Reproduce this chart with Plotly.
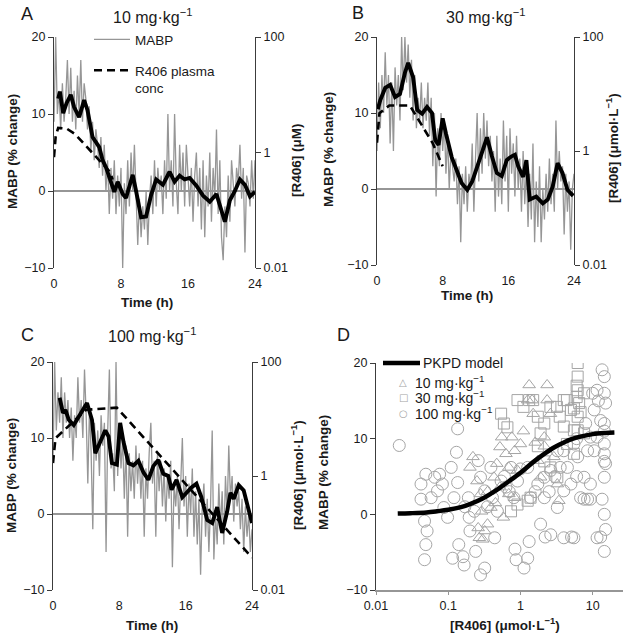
import plotly.graph_objects as go

W, H = 629, 638
FONT = "Liberation Sans, Arial, sans-serif"

# ---------------- DATA ----------------
# sample times (h) for raw MABP traces, every 0.2 h
t_raw = [round(i * 0.2, 1) for i in range(121)]

mabp_A = [9, 20, 10, 13, 8, 14, 9, 12, 17, 10, 16, 9, 13, 8, 15, 10, 17, 9, 14, 12,
          8, 11, 5, 9, 4, 8, 6, 3, 7, 2, 6, 0, 4, -3, 3, -1, 4, -3, 2, -2,
          3, -10, 1, -3, 4, -2, 5, 0, 6, -2, -7, -1, -6, -2, -5, 0, -7, -1, 2, -3,
          4, -2, 3, 0, 2, -3, 4, -1, 10, 0, 4, -2, 10, 1, -3, 6, 0, 5, -2, 6,
          1, -2, 3, -4, 2, 5, -2, 3, -5, 4, -6, 2, -2, 5, -4, 3, -1, 8, -3, 4,
          -6, -9, -2, -6, 2, -4, 4, 1, -2, 3, 1, 6, -1, 3, -8, 2, 1, -2, 4, -1, 4]
mabp_B = [5, 14, 8, 15, 10, 18, 11, 15, 6, 14, 5, 16, 11, 15, 9, 20, 13, 20, 14, 19,
          12, 17, 9, 15, 8, 12, 9, 14, 8, 12, 9, 14, 7, 12, 3, 10, -1, 8, 3, 10,
          5, 9, 2, 7, 0, 5, 3, 1, 4, -2, 3, -7, 2, -2, 3, -3, 2, 0, 6, -3,
          4, 10, 1, 8, 2, 10, 4, 9, 3, 7, 1, 5, -3, 7, -1, 4, -2, 9, 1, 7,
          -3, 8, 2, 6, -1, 7, 0, 4, -3, 5, -2, 3, -5, 2, -4, 6, -7, 1, -5, 3,
          -7, 0, -4, 2, -3, 4, -2, 2, -3, 9, 0, 5, 1, 3, -6, 2, -3, 1, -8, 0, 2]
mabp_C = [7, 20, 11, 16, 12, 18, 10, 16, 12, 15, 10, 14, 7, 13, 10, 18, 12, 15, 10, 19,
          13, 4, 14, 8, -2, 12, 7, 11, 5, 13, 9, 12, -5, 11, 19, 6, 8, 3, 20, 5,
          12, 6, 10, 2, 9, -3, 8, 3, 7, 2, 9, 4, 8, 2, 7, -3, 6, 2, 8, 12,
          4, 7, -3, 8, 3, 7, 1, 6, -1, 5, 2, 7, -7, 4, 1, 5, -2, 4, 10, 1,
          5, -3, 4, 0, 6, -3, 3, -4, 2, -8, 1, 4, -3, 2, -5, 1, 11, -6, 0, -4,
          4, -2, 3, -4, 5, 0, 9, 2, 5, -1, 4, 1, 3, -2, 2, -5, 1, -3, 0, -5, -2]

# smoothed MABP (black line)
smooth_A_t = [0.5, 0.7, 1.1, 1.5, 2.0, 2.4, 3.0, 3.6, 4.0, 4.6, 5.4, 5.8, 6.2, 6.8, 7.2, 7.6, 8.2, 8.6,
              9.4, 9.8, 10.4, 11.0, 11.6, 12.2, 13.0, 13.8, 14.4, 15.0, 15.6, 16.2, 17.0, 17.8, 18.6,
              19.4, 20.0, 20.4, 21.0, 21.6, 22.2, 22.8, 23.4, 24.0]
smooth_A_v = [12.0, 12.9, 10.1, 11.4, 12.5, 10.9, 9.6, 11.8, 10.5, 7.0, 5.7, 4.0, 3.1, 1.0, -0.1, 1.2, -0.4, -0.9,
              2.1, 0.0, -3.4, -3.3, -0.5, 1.5, 0.8, 2.5, 1.2, 2.0, 1.5, 1.7, 0.7, -0.6, -1.4,
              -0.4, -2.5, -4.0, -1.2, 0.0, 1.5, 0.8, -0.7, -0.1]
smooth_B_t = [0.1, 0.4, 1.0, 1.6, 2.2, 2.8, 3.4, 3.8, 4.4, 4.9, 5.5, 6.1, 6.7, 7.1, 7.5, 8.0, 8.4, 9.1, 9.7,
              10.3, 11.0, 11.6, 12.2, 12.8, 13.4, 14.0, 14.6, 15.2, 15.8, 16.4, 16.8, 17.2, 17.8, 18.2,
              18.6, 19.4, 20.2, 20.8, 21.4, 22.0, 22.6, 23.2, 23.9]
smooth_B_v = [10.5, 11.7, 13.3, 13.7, 12.1, 12.5, 15.3, 16.6, 14.7, 10.4, 9.9, 10.8, 10.0, 6.4, 5.8, 9.3, 7.3, 4.2, 2.5,
              0.8, -0.1, 1.0, 2.9, 4.7, 6.8, 4.3, 2.1, 1.7, 3.8, 4.3, 4.5, 3.0, 1.6, 3.8,
              -1.4, -1.0, -1.9, -1.4, 0.3, 3.4, 2.1, -0.1, -0.9]
smooth_C_t = [0.8, 1.2, 1.5, 1.9, 2.5, 3.1, 4.1, 4.7, 5.1, 5.7, 6.3, 6.7, 7.1, 7.7, 8.1, 8.5, 9.1, 9.7, 10.3,
              10.9, 11.5, 12.1, 12.7, 13.3, 13.9, 14.3, 14.9, 15.6, 16.2, 16.7, 17.3, 17.9, 18.6, 19.2,
              19.8, 20.4, 21.0, 21.4, 21.8, 22.4, 23.0, 23.6, 24.0]
smooth_C_v = [15.3, 13.3, 13.7, 12.4, 11.7, 12.8, 14.6, 12.4, 8.0, 9.5, 11.0, 10.2, 6.7, 6.5, 12.0, 9.5, 6.7, 6.4, 7.0,
              5.5, 4.5, 6.3, 7.1, 5.3, 5.0, 3.2, 4.5, 2.2, 2.9, 3.5, 4.0, 2.2, -0.8, -1.2,
              0.9, -2.5, 0.3, 2.8, 2.0, 3.8, 3.1, 0.5, -1.2]

# R406 plasma concentration (umol/L), right log axis
conc_A_t = [0.0, 0.2, 0.5, 1.5, 2.5, 6.7, 7.0]
conc_A_c = [0.83, 1.9, 2.67, 2.6, 2.09, 0.46, 0.34]
conc_B_t = [0.0, 0.3, 1.5, 4.0, 6.8, 8.0]
conc_B_c = [1.4, 4.6, 6.3, 6.3, 1.36, 0.54]
conc_C_t = [0.0, 0.3, 4.0, 7.7, 24.0]
conc_C_c = [1.69, 4.6, 14.5, 15.8, 0.037]

# PKPD model curve
pkpd_c = [0.02, 0.03, 0.05, 0.07, 0.1, 0.15, 0.2, 0.3, 0.4, 0.5, 0.7, 1, 1.5, 2, 3, 4, 5, 7, 10, 15, 20]
pkpd_v = [0.1, 0.15, 0.25, 0.4, 0.6, 0.95, 1.35, 2.1, 2.8, 3.4, 4.4, 5.5, 6.9, 7.8, 8.9, 9.5, 9.9, 10.3, 10.6, 10.75, 10.8]

# observations per dose
obs10_c = [0.20, 0.22, 0.25, 0.28, 0.29, 0.26, 0.27, 0.30, 0.32, 0.35, 0.39, 0.43, 0.47, 0.52, 0.55, 0.63, 0.69,
           0.76, 0.83, 0.91, 1.0, 1.26, 1.32, 1.45, 1.5, 1.74, 1.9, 2.14, 2.34, 2.34, 2.6, 2.9, 3.24, 3.4,
           2.14, 0.69, 0.52, 0.83, 0.58, 0.35, 0.45, 1.1, 1.6]
obs10_v = [6.2, 7.6, 4.4, 2.7, 0.4, -1.8, -3.1, -3.3, -2.2, -1.3, 0.9, 4.9, 6.7, 8.9, 10.2, 8.0, 6.2,
           10.2, 8.4, 5.8, 9.3, 15.1, 17.1, 15.1, 13.3, 7.1, 4.9, 10.2, 15.1, 17.1, 13.3, 7.6, 4.0, 1.8,
           9.0, 2.7, 3.6, 2.2, -0.4, 3.0, 1.5, 11.0, 9.5]
obs30_c = [0.54, 0.59, 0.66, 0.91, 1.1, 1.32, 1.5, 1.74, 1.9, 2.14, 2.6, 3.2, 3.98, 4.4, 5.0, 5.5, 6.2,
           6.2, 6.2, 6.2, 6.5, 6.8, 6.2, 5.5, 4.4, 3.24, 2.6, 2.14, 1.38, 1.26, 0.91, 0.74, 3.98, 3.5,
           7.6, 7.6, 1.74, 6.0, 6.0, 5.5]
obs30_v = [13.3, 12.0, 11.5, 15.1, 14.2, 15.1, 15.1, 12.9, 10.7, 12.0, 14.2, 14.2, 15.1, 15.1, 13.8, 11.1, 11.1,
           20.0, 18.2, 16.4, 14.7, 13.5, 12.9, 8.0, 9.3, 4.9, 6.2, 7.0, 2.2, 1.8, 1.3, 0.4, 11.6, 12.9,
           16.0, 10.7, 9.0, 17.0, 15.5, 14.0]
obs100_c = [0.021, 0.042, 0.049, 0.042, 0.047, 0.051, 0.049, 0.047, 0.058, 0.065, 0.076, 0.071, 0.083, 0.087, 0.098,
            0.135, 0.13, 0.11, 0.135, 0.12, 0.115, 0.14, 0.16, 0.166, 0.19, 0.195, 0.20, 0.23, 0.24, 0.28,
            0.32, 0.26, 0.28, 0.32, 0.39, 0.41, 0.48, 0.44, 0.54, 0.63, 0.74, 0.81, 0.91, 0.87, 1.12,
            1.26, 1.32, 1.38, 1.74, 1.9, 2.14, 2.63, 3.24, 3.98, 4.47, 5.0, 5.5, 6.2, 3.98, 3.98,
            2.63, 6.8, 7.6, 7.6, 8.5, 9.3, 9.3, 5.5, 10.5, 11.5, 12.9, 11.5, 14.5, 13.5, 15.1,
            14.5, 15.1, 14.5, 13.5, 14.5, 15.1, 11.5, 14.5, 14.5, 14.5, 14.5, 14.5, 14.5, 10.5,
            9.3, 8.5, 3.55, 3.24, 2.14, 1.26, 1.0, 0.6, 0.35, 0.17, 0.7, 1.6, 2.5, 6.0, 8.0,
            12.0, 10.0, 6.0, 3.0, 2.2, 5.1, 12.9, 0.84]
obs100_v = [9.1, 4.0, 5.3, 2.0, -0.9, -2.2, -4.0, -6.0, 2.2, 4.9, 5.3, 3.1, 4.0, 0.9, -0.4,
            11.3, 8.2, 6.2, 4.2, 2.2, -5.8, -4.0, -5.6, -6.7, 2.2, -0.4, -2.2, 0.4, -4.9, -8.0,
            -7.1, 7.1, 4.9, 3.1, 6.2, 2.2, 0.4, -3.1, 4.4, 3.6, 6.2, 2.2, 4.4, -6.0, -7.1,
            -5.8, -3.6, 2.2, 4.0, -1.3, 2.2, 5.8, 0.9, 3.1, 6.2, 4.0, 9.3, 7.6, 8.4, -3.1,
            -2.7, 2.2, 4.9, 2.0, 2.0, 2.0, 4.0, -3.1, 8.4, 10.2, 12.4, 16.4, 18.2, 19.1, 14.7,
            9.3, 6.7, 4.9, 2.0, 0.0, -2.0, -3.1, -4.9, 16.0, 12.0, 11.0, 8.0, 7.0, 13.8,
            10.2, 8.4, 6.2, 8.4, 4.9, 6.2, 6.0, 5.0, 1.0, 1.0, 3.0, 3.0, 3.0, 10.0, 12.0,
            15.0, 16.0, 5.0, 5.0, -3.0, -3.0, -3.0, -4.6]

time_ticks = [0, 8, 16, 24]
mabp_ticks = [-10, 0, 10, 20]
mabp_ticktext = ["\u221210", "0", "10", "20"]
conc_ticks = [0.01, 1, 100]
conc_ticktext = ["0.01", "1", "100"]
d_ticks = [0.01, 0.1, 1, 10]
d_ticktext = ["0.01", "0.1", "1", "10"]

# ---------------- LAYOUT HELPERS ----------------
def px(x):
    return x / W

def py(y):
    return 1 - y / H

GRAY = "rgb(150,150,150)"
AXC = "rgb(60,60,60)"
TXT = "#1a1a1a"
MK = "rgb(165,165,165)"
TICKF = dict(size=12.5, color=TXT, family=FONT)

fig = go.Figure()

panels = [
    ("A", (54, 255), (37, 268), mabp_A, smooth_A_t, smooth_A_v, conc_A_t, conc_A_c),
    ("B", (377, 574), (37, 265), mabp_B, smooth_B_t, smooth_B_v, conc_B_t, conc_B_c),
    ("C", (53, 252), (362, 590), mabp_C, smooth_C_t, smooth_C_v, conc_C_t, conc_C_c),
]

layout = dict(
    width=W, height=H, margin=dict(l=0, r=0, t=0, b=0, autoexpand=False),
    paper_bgcolor="white", plot_bgcolor="white",
    font=dict(family=FONT, size=12, color=TXT),
)

for i, (name, xd, yd, raw, st, sv, ct, cc) in enumerate(panels):
    xa = f"x{i+1}" if i else "x"
    ya = f"y{2*i+1}" if i else "y"
    ya2 = f"y{2*i+2}"
    xkey = f"xaxis{i+1}" if i else "xaxis"
    ykey = f"yaxis{2*i+1}" if i else "yaxis"
    y2key = f"yaxis{2*i+2}"
    first = (i == 0)
    fig.add_trace(go.Scatter(x=t_raw, y=raw, mode="lines", name="MABP",
                             line=dict(color=GRAY, width=1.3),
                             xaxis=xa, yaxis=ya, showlegend=first, legend="legend"))
    fig.add_trace(go.Scatter(x=ct, y=cc, mode="lines", name="R406 plasma<br>conc",
                             line=dict(color="black", width=2.6, dash="8px,5px"),
                             xaxis=xa, yaxis=ya2, showlegend=first, legend="legend3"))
    fig.add_trace(go.Scatter(x=st, y=sv, mode="lines", name="smoothed",
                             line=dict(color="black", width=3.9),
                             xaxis=xa, yaxis=ya, showlegend=False))
    layout[xkey] = dict(domain=[px(xd[0]), px(xd[1])], anchor=ya, range=[0, 24], automargin=False,
                        tickvals=time_ticks, showline=False, showgrid=False, zeroline=False,
                        ticks="outside", ticklen=4, tickcolor="rgba(0,0,0,0)", tickfont=TICKF)
    layout[ykey] = dict(domain=[py(yd[1]), py(yd[0])], anchor=xa, range=[-10, 20], automargin=False,
                        tickvals=mabp_ticks, ticktext=mabp_ticktext,
                        showline=True, linecolor=AXC, linewidth=1.2, showgrid=False,
                        zeroline=True, zerolinecolor=GRAY, zerolinewidth=1.6,
                        ticks="outside", ticklen=5, tickcolor=AXC, tickfont=TICKF)
    layout[y2key] = dict(overlaying=ya, side="right", anchor=xa, type="log", range=[-2, 2],
                         automargin=False, tickvals=conc_ticks, ticktext=conc_ticktext,
                         showline=True, linecolor=AXC, linewidth=1.2, showgrid=False,
                         zeroline=False, ticks="outside", ticklen=5, tickcolor=AXC, tickfont=TICKF)

# Panel D
fig.add_trace(go.Scatter(x=obs100_c, y=obs100_v, mode="markers", name="100 mg\u00b7kg<sup>\u22121</sup>",
                         marker=dict(symbol="circle-open", size=12, color=MK, line=dict(width=1, color=MK)),
                         xaxis="x4", yaxis="y7", showlegend=False))
fig.add_trace(go.Scatter(x=obs30_c, y=obs30_v, mode="markers", name="30 mg\u00b7kg<sup>\u22121</sup>",
                         marker=dict(symbol="square-open", size=11, color=MK, line=dict(width=1, color=MK)),
                         xaxis="x4", yaxis="y7", showlegend=False))
fig.add_trace(go.Scatter(x=obs10_c, y=obs10_v, mode="markers", name="10 mg\u00b7kg<sup>\u22121</sup>",
                         marker=dict(symbol="triangle-up-open", size=11, color=MK, line=dict(width=1, color=MK)),
                         xaxis="x4", yaxis="y7", showlegend=False))
fig.add_trace(go.Scatter(x=pkpd_c, y=pkpd_v, mode="lines", name="PKPD model",
                         line=dict(color="black", width=4.5, shape="spline"),
                         xaxis="x4", yaxis="y7", showlegend=False))

layout["xaxis4"] = dict(domain=[px(376), px(623)], anchor="y7", type="log", range=[-2, 1.42],
                        automargin=False, tickvals=d_ticks, ticktext=d_ticktext, showline=True,
                        linecolor=GRAY, linewidth=1.6, showgrid=False, zeroline=False, ticks="outside",
                        ticklen=3, tickcolor=GRAY, tickfont=TICKF)
layout["yaxis7"] = dict(domain=[py(590), py(363)], anchor="x4", range=[-10, 20], automargin=False,
                        tickvals=mabp_ticks, ticktext=mabp_ticktext,
                        showline=True, linecolor=AXC, linewidth=1.2, showgrid=False, zeroline=False,
                        ticks="outside", ticklen=5, tickcolor=AXC, tickfont=TICKF)

# legends for panel A
layout["legend"] = dict(x=px(89), y=py(24), xanchor="left", yanchor="top", bgcolor="rgba(0,0,0,0)",
                        font=dict(size=13.5, color=TXT, family=FONT), itemwidth=36)
layout["legend3"] = dict(x=px(89), y=py(55), xanchor="left", yanchor="top", bgcolor="rgba(0,0,0,0)",
                         font=dict(size=13.5, color=TXT, family=FONT), itemwidth=36, valign="top")

ann = []
def text(x, y, s, size=12, bold=False, angle=0, xanchor="center", color=TXT, family=FONT):
    ann.append(dict(x=px(x), y=py(y), xref="paper", yref="paper", text=(f"<b>{s}</b>" if bold else s),
                    showarrow=False, textangle=angle, xanchor=xanchor, yanchor="middle",
                    font=dict(size=size, color=color, family=family)))

# panel letters and titles
text(27, 14, "A", size=18)
text(152, 16, "10 mg\u00b7kg<sup>\u22121</sup>", size=16)
text(358, 13, "B", size=18)
text(485, 16, "30 mg\u00b7kg<sup>\u22121</sup>", size=16)
text(28, 335, "C", size=18)
text(152, 335, "100 mg\u00b7kg<sup>\u22121</sup>", size=16)
text(343, 335, "D", size=18)

# axis titles
TS = 13.5
text(12, 152, "MABP (% change)", size=TS, bold=True, angle=-90)
text(297, 160, "[R406] (\u03bcM)", size=TS, bold=True, angle=-90)
text(147, 302, "Time (h)", size=TS, bold=True)
text(328, 150, "MABP (% change)", size=TS, bold=True, angle=-90)
text(612, 148, "[R406] (\u03bcmol\u00b7L<sup>\u22121</sup>)", size=TS, bold=True, angle=-90)
text(467, 295, "Time (h)", size=TS, bold=True)
text(11, 476, "MABP (% change)", size=TS, bold=True, angle=-90)
text(297, 475, "[R406] (\u03bcmol\u00b7L<sup>\u22121</sup>)", size=TS, bold=True, angle=-90)
text(152, 625, "Time (h)", size=TS, bold=True)
text(323, 473, "MABP (% change)", size=TS, bold=True, angle=-90)
text(505, 624, "[R406] (\u03bcmol\u00b7L<sup>\u22121</sup>)", size=TS, bold=True)

# legend for panel D
text(421, 363, "PKPD model", size=14, xanchor="left")
text(403, 382, "\u25b3", size=10, color=MK, family="DejaVu Sans")
text(413, 382, "10 mg\u00b7kg<sup>\u22121</sup>", size=14, xanchor="left")
text(403, 397, "\u25a1", size=10, color=MK, family="DejaVu Sans")
text(413, 397, "30 mg\u00b7kg<sup>\u22121</sup>", size=14, xanchor="left")
text(403, 413, "\u25cb", size=10, color=MK, family="DejaVu Sans")
text(413, 413, "100 mg\u00b7kg<sup>\u22121</sup>", size=14, xanchor="left")

layout["annotations"] = ann
layout["shapes"] = [dict(type="line", xref="paper", yref="paper", x0=px(383), x1=px(420),
                         y0=py(363), y1=py(363), line=dict(color="black", width=4.5))]
fig.update_layout(**layout)
# remove the browser's default 8 px page margin so the figure fills the window exactly
fig.write_html("out.html", config={"displayModeBar": False},
               post_script="document.body.style.margin='0';document.body.style.overflow='hidden';")
